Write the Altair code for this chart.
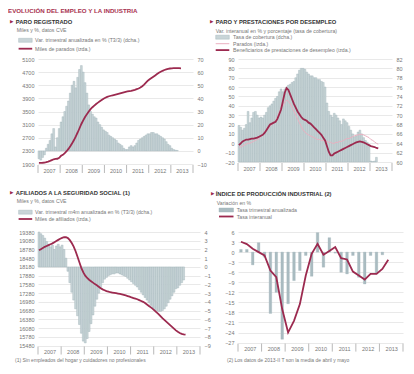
import altair as alt
import pandas as pd

YEAR_LABELS = ["2007", "2008", "2009", "2010", "2011", "2012", "2013"]

# ---- Panel 1: Paro registrado (monthly, from Jan 2007) ----
paro_miles = [1935, 1935, 1938, 1945, 1958, 1975, 1995, 2020, 2045, 2055, 2060, 2090,
              2150, 2180, 2230, 2290, 2360, 2440, 2530, 2630, 2740, 2860, 2990, 3120,
              3230, 3330, 3420, 3500, 3570, 3630, 3680, 3730, 3770, 3810, 3850, 3890,
              3920, 3945, 3965, 3980, 3995, 4010, 4025, 4040, 4055, 4070, 4085, 4100,
              4110, 4120, 4130, 4145, 4160, 4180, 4200, 4230, 4270, 4320, 4380, 4440,
              4480, 4520, 4560, 4600, 4640, 4680, 4710, 4740, 4765, 4785, 4800, 4810,
              4815, 4820, 4822, 4822, 4820, 4815]
paro_var = [-6, -7, -5, -3, 2, 5, 8, 13, 17, 3, 10, 17,
            22, 26, 30, 34, 38, 44, 50, 53, 48, 56, 62, 65,
            60, 52, 44, 35, 30, 28, 26, 25, 22, 20, 18, 16,
            15, 14, 12, 11, 10, 9, 8, 6, 5, 4, 2, 1,
            1, 3, 4, 3, 4, 6, 8, 9, 10, 11, 12, 13,
            13, 14, 14, 13, 13, 12, 11, 10, 9, 7, 5, 4,
            2, 1, 0.5, 0.3]

# ---- Panel 2: Paro y prestaciones (monthly) ----
cobertura = [67.8, 67.4, 66.8, 67.2, 68.0, 70.8, 68.4, 69.4, 70.6, 70.8, 70.0, 69.4,
             69.6, 69.4, 70.0, 70.6, 71.6, 72.0, 72.4, 73.0, 73.6, 74.0, 75.0, 75.6,
             75.0, 75.6, 76.0, 76.4, 76.6, 77.0, 77.2, 78.0, 78.8, 79.6, 80.0, 80.0,
             79.8, 79.2, 78.8, 78.4, 78.4, 78.0, 78.0, 77.6, 77.6, 77.2, 77.0, 76.0,
             72.6, 70.8, 70.0, 69.6, 70.4, 70.0, 69.4, 68.8, 68.0, 69.2, 68.8, 68.4,
             67.6, 66.8, 66.0, 65.4, 65.6, 66.4, 66.8, 66.0, 65.2, 64.6, 64.2, 63.6,
             60.2, 60.1, 60.2, 61.0]
parados_ia = [-4, -4, -3, -2, -1, 0, 0, 1, 2, 3, 4, 5,
              7, 9, 12, 15, 16, 18, 20, 22, 24, 28, 33, 38,
              40, 44, 46, 45, 42, 38, 34, 30, 26, 22, 18, 14,
              12, 10, 9, 8, 7, 6, 5, 4, 4, 3, 3, 3,
              2, 1, 1, 0, 0, 1, 1, 2, 2, 3, 4, 5,
              5, 6, 7, 8, 8.5, 9, 9.5, 9.5, 9, 8, 7, 6,
              4, 3, 1.5, 0, -1]
benef_ia = [-2, 0, 2, 3, 4, 4, 4.5, 5, 5, 5.5, 6, 7,
            8, 9, 11, 14, 17, 20, 21, 22, 23, 26, 31, 36,
            45, 54, 59, 57, 52, 47, 42, 38, 34, 31, 28, 26,
            25, 24, 22, 21, 19, 17, 15, 13, 11, 9, 6, 3,
            -3, -9, -13, -13, -11, -10, -9, -8, -7, -6, -5, -4,
            -3, -2, -1, 0, 1, 1.5, 2, 1.5, 1, 0, -1, -2,
            -3, -3.5, -4, -5, -5.5]

# ---- Panel 3: Afiliados (monthly) ----
afil_miles = [18750, 18790, 18830, 18870, 18900, 18930, 18960, 18990, 19030, 19070, 19110, 19150,
              19180, 19200, 19200, 19170, 19100, 19000, 18880, 18720, 18530, 18330, 18140, 17990,
              17880, 17800, 17740, 17690, 17640, 17590, 17550, 17500, 17450, 17410, 17380, 17350,
              17330, 17310, 17300, 17290, 17280, 17265, 17250, 17235, 17220, 17200, 17180, 17160,
              17130, 17110, 17090, 17070, 17040, 17010, 16980, 16940, 16890, 16840, 16790, 16740,
              16680, 16620, 16560, 16490, 16420, 16360, 16300, 16240, 16180, 16120, 16060, 16000,
              15950, 15910, 15880, 15860, 15850]
afil_var = [4.0, 3.8, 3.6, 3.3, 2.9, 2.6, 2.3, 2.5, 2.0, 2.4, 2.6, 2.3,
            2.5, 2.0, 1.0, -0.5, -1.8, -2.9, -3.8, -4.8, -5.6, -6.6, -7.6, -8.5,
            -8.7, -8.2, -7.4, -6.5, -5.5, -4.5, -3.7, -3.0, -2.4, -1.8, -1.4, -1.2,
            -1.0, -0.9, -0.8, -0.8, -0.7, -0.7, -0.8, -0.9, -1.0, -1.1, -1.3, -1.5,
            -1.7, -1.9, -2.1, -2.3, -2.6, -2.9, -3.2, -3.5, -3.8, -4.1, -4.4, -4.7,
            -4.9, -5.0, -5.1, -5.1, -5.0, -4.8, -4.5, -4.1, -3.7, -3.3, -2.9, -2.5,
            -2.4, -2.1, -1.8, -1.5]

# ---- Panel 4: IPI (quarterly, from Q1 2007) ----
ipi_trim = [0.8, 0.8, -3.8, 2.8, -1.5, -18.3, -12.0, -26.0, -15.4, -8.5, -5.5, -1.0,
            -7.2, 5.8, -4.5, 4.3, -0.3, -6.0, -6.5, -1.0, -7.5, -9.5, -1.0, -6.5, -0.8]
ipi_inter = [3.1, 2.4, 1.0, 0.0, -1.0, -5.5, -7.5, -17.0, -24.0, -20.5, -15.5, -7.0,
             -0.5, 2.5, -0.8, 0.3, 1.5, -1.8, -2.2, -5.8, -7.0, -8.2, -6.5, -6.5, -5.0, -2.3]

FONT = "Liberation Sans"
MAROON = "#9c2a4f"
TITLE_RED = "#a8324f"
PINK = "#eab0c0"
BARF = "#c9d5d8"
BARS = "#9cb0b6"
BAR4 = "#aabcc1"
GRID = "#dadada"
LAB = "#777777"
DARK = "#333333"

def monthly_line(vals):
    return pd.DataFrame({"t": [2007 + (i + 0.5) / 12 for i in range(len(vals))], "v": vals})

def monthly_bars(vals):
    return pd.DataFrame({"t0": [2007 + i / 12 for i in range(len(vals))],
                         "t1": [2007 + (i + 1) / 12 for i in range(len(vals))], "v": vals})

XS = alt.Scale(domain=[2007, 2014], nice=False, zero=False)

def xax():
    return alt.Axis(values=[2007.5 + i for i in range(len(YEAR_LABELS))],
                    labelExpr="'' + floor(datum.value)", ticks=False, domain=False,
                    grid=False, labelFontSize=5.5, labelColor=LAB, labelFont=FONT,
                    labelPadding=4, title=None)

def yax(vals, orient, grid):
    return alt.Axis(values=vals, orient=orient, grid=grid, gridColor=GRID, gridWidth=0.6,
                    domain=False, ticks=False, labelFontSize=5.5, labelColor=LAB,
                    labelFont=FONT, labelPadding=4, title=None, format="d")

dummy = pd.DataFrame({"d": [0]})

def txt(s, x, y, size=5.2, color=LAB, weight="normal", font=FONT):
    return alt.Chart(dummy).mark_text(text=s, fontSize=size, color=color, fontWeight=weight,
                                      font=font, align="left", baseline="middle").encode(
        x=alt.value(x), y=alt.value(y))

def sw_bar(x0, x1, y, fill=BARF, stroke=BARS):
    return alt.Chart(dummy).mark_rect(fill=fill, stroke=stroke, strokeWidth=0.4).encode(
        x=alt.value(x0), x2=alt.value(x1), y=alt.value(y - 2), y2=alt.value(y + 2))

def sw_line(x0, x1, y, color, w):
    return alt.Chart(dummy).mark_rule(color=color, strokeWidth=w).encode(
        x=alt.value(x0), x2=alt.value(x1), y=alt.value(y))

def year_ticks(H):
    return alt.Chart(pd.DataFrame({"yr": list(range(2007, 2015))})).mark_rule(
        color="#8a8a8a", strokeWidth=0.6).encode(
        x=alt.X("yr:Q", scale=XS, axis=xax()), y=alt.value(H + 1), y2=alt.value(H + 9))

def header(title, ty, subtitle, sy, tri_x=-28, title_x=-22.3, sub_x=-21.3):
    return [txt("\u25B6", tri_x, ty, size=4.5, color=MAROON, font="DejaVu Sans"),
            txt(title, title_x, ty, size=5.8, color=DARK, weight="bold"),
            txt(subtitle, sub_x, sy, size=5.2, color=LAB)]

# ---------------- Panel 1 ----------------
W1, H1 = 155, 105
p1_bars = alt.Chart(monthly_bars(paro_var)).mark_bar(fill=BARF, stroke=BARS, strokeWidth=0.4).encode(
    x=alt.X("t0:Q", scale=XS, axis=xax()), x2="t1:Q",
    y=alt.Y("v:Q", scale=alt.Scale(domain=[-10, 70], nice=False, zero=False),
            axis=yax(list(range(-10, 71, 10)), "right", False)),
    y2=alt.datum(0))
p1_line = alt.Chart(monthly_line(paro_miles)).mark_line(color=MAROON, strokeWidth=1.8).encode(
    x=alt.X("t:Q", scale=XS, axis=xax()),
    y=alt.Y("v:Q", scale=alt.Scale(domain=[1900, 5100], nice=False, zero=False),
            axis=yax(list(range(1900, 5101, 400)), "left", True)))
p1 = alt.layer(
    p1_bars, p1_line, year_ticks(H1),
    txt("EVOLUCIÓN DEL EMPLEO Y LA INDUSTRIA", -30, -48, size=6.2, color=TITLE_RED, weight="bold"),
    *header("PARO REGISTRADO", -37.5, "Miles y %, datos CVE", -29),
    sw_bar(-19.4, -5.8, -18.7), txt("Var. trimestral anualizada en % (T3/3) (dcha.)", -2.9, -18.7),
    sw_line(-19.4, -5.8, -10.3, MAROON, 1.8), txt("Miles de parados (izda.)", -2.9, -10.3),
).resolve_scale(y="independent").properties(width=W1, height=H1)

# ---------------- Panel 2 ----------------
W2, H2 = 154, 103
p2_bars = alt.Chart(monthly_bars(cobertura)).mark_bar(fill=BARF, stroke=BARS, strokeWidth=0.4).encode(
    x=alt.X("t0:Q", scale=XS, axis=xax()), x2="t1:Q",
    y=alt.Y("v:Q", scale=alt.Scale(domain=[60, 82], nice=False, zero=False),
            axis=yax(list(range(60, 83, 2)), "right", False)),
    y2=alt.datum(60))
lines2 = pd.concat([monthly_line(parados_ia).assign(s="Parados"),
                    monthly_line(benef_ia).assign(s="Beneficiarios")], ignore_index=True)
p2_lines = alt.Chart(lines2).mark_line().encode(
    x=alt.X("t:Q", scale=XS, axis=xax()),
    y=alt.Y("v:Q", scale=alt.Scale(domain=[-20, 90], nice=False, zero=False),
            axis=yax(list(range(-20, 91, 10)), "left", True)),
    color=alt.Color("s:N", scale=alt.Scale(domain=["Parados", "Beneficiarios"], range=[PINK, MAROON]), legend=None),
    strokeWidth=alt.StrokeWidth("s:N", scale=alt.Scale(domain=["Parados", "Beneficiarios"], range=[1.0, 1.8]), legend=None),
    order=alt.Order("t:Q"))
p2 = alt.layer(
    p2_bars, p2_lines, year_ticks(H2),
    *header("PARO Y PRESTACIONES POR DESEMPLEO", -37,
            "Var. interanual en % y porcentaje (tasa de cobertura)", -28.3, sub_x=-22.3),
    sw_bar(-22.3, -8.7, -21.8), txt("Tasa de cobertura (dcha.)", -4.9, -21.8),
    sw_line(-22.3, -8.7, -15.3, PINK, 1.0), txt("Parados (izda.)", -4.9, -15.3),
    sw_line(-22.3, -8.7, -8.9, MAROON, 1.8), txt("Beneficiarios de prestaciones de desempleo (izda.)", -4.9, -8.9),
).resolve_scale(y="independent").properties(width=W2, height=H2)

# ---------------- Panel 3 ----------------
W3, H3 = 162, 113.5
p3_bars = alt.Chart(monthly_bars(afil_var)).mark_bar(fill=BARF, stroke=BARS, strokeWidth=0.4).encode(
    x=alt.X("t0:Q", scale=XS, axis=xax()), x2="t1:Q",
    y=alt.Y("v:Q", scale=alt.Scale(domain=[-9, 4], nice=False, zero=False),
            axis=yax(list(range(-9, 5)), "right", False)),
    y2=alt.datum(0))
p3_line = alt.Chart(monthly_line(afil_miles)).mark_line(color=MAROON, strokeWidth=1.8).encode(
    x=alt.X("t:Q", scale=XS, axis=xax()),
    y=alt.Y("v:Q", scale=alt.Scale(domain=[15480, 19380], nice=False, zero=False),
            axis=yax(list(range(15480, 19381, 300)), "left", True)))
p3 = alt.layer(
    p3_bars, p3_line, year_ticks(H3),
    *header("AFILIADOS A LA SEGURIDAD SOCIAL (1)", -39.5, "Miles y %, datos CVE", -31),
    sw_bar(-19.4, -5.8, -19.8), txt("Var. trimestral m4m anualizada en % (T3/3) (dcha.)", -2.9, -19.8),
    sw_line(-19.4, -5.8, -13.0, MAROON, 1.8), txt("Miles de afiliados (izda.)", -2.9, -13.0),
    txt("(1) Sin empleados del hogar y cuidadores no profesionales", -23, 128, size=5.0),
).resolve_scale(y="independent").properties(width=W3, height=H3)

# ---------------- Panel 4 ----------------
W4, H4 = 165, 110.6
q_c = [2007 + (i + 0.5) / 4 for i in range(len(ipi_inter))]
df4b = pd.DataFrame({"t0": [c - 0.055 for c in q_c[:len(ipi_trim)]],
                     "t1": [c + 0.055 for c in q_c[:len(ipi_trim)]], "v": ipi_trim})
df4l = pd.DataFrame({"t": q_c, "v": ipi_inter})
Y4 = alt.Scale(domain=[-27, 6], nice=False, zero=False)
p4_bars = alt.Chart(df4b).mark_bar(fill=BAR4, stroke=BARS, strokeWidth=0.3).encode(
    x=alt.X("t0:Q", scale=XS, axis=xax()), x2="t1:Q",
    y=alt.Y("v:Q", scale=Y4, axis=yax(list(range(-27, 7, 3)), "left", True)),
    y2=alt.datum(0))
p4_line = alt.Chart(df4l).mark_line(color=MAROON, strokeWidth=1.8).encode(
    x=alt.X("t:Q", scale=XS, axis=xax()),
    y=alt.Y("v:Q", scale=Y4, axis=yax(list(range(-27, 7, 3)), "left", True)))
p4 = alt.layer(
    p4_bars, p4_line, year_ticks(H4),
    *header("ÍNDICE DE PRODUCCIÓN INDUSTRIAL (2)", -38, "Variación en %", -29, tri_x=-27),
    sw_bar(-19, -4.5, -22, fill=BAR4), txt("Tasa trimestral anualizada", -1.3, -22),
    sw_line(-19, -4.5, -15.5, MAROON, 1.8), txt("Tasa interanual", -1.3, -15.5),
    txt("(2) Los datos de 2013-II T son la media de abril y mayo", -11, 128, size=5.0),
).properties(width=W4, height=H4)

chart = alt.concat(p1, p2, p3, p4, columns=2, spacing={"row": 68, "column": 38},
                   bounds="flush").properties(padding=0).configure_view(stroke=None)

chart.save("out.html", embed_options={"renderer": "svg", "actions": False})
